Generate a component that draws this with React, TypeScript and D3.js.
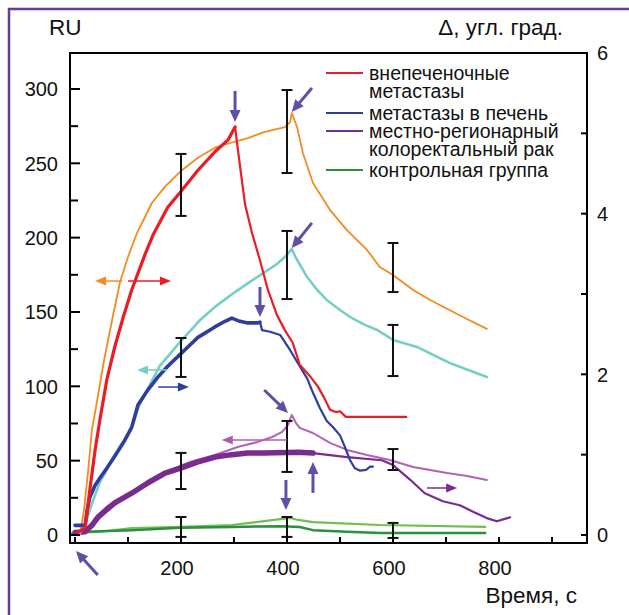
import React from "react";
import * as d3 from "d3";

type Pt = [number, number];

const W = 629;
const H = 615;

// time axis ticks (s)
const timeLabels = [200, 400, 600, 800];
const timeMinor = [0, 100, 200, 300, 400, 500, 600, 700, 800, 900];
// left axis RU
const ruLabels = [0, 50, 100, 150, 200, 250, 300];
const ruMinor = [25, 75, 125, 175, 225, 275];
// right axis, degrees
const degLabels = [0, 2, 4, 6];
const degMinor = [1, 3, 5];

// light curves, left axis (RU)
const orangeRU: Pt[] = [
  [9, 0], [17, 16.8], [25, 43.7], [32, 70.6], [42, 90.8], [55, 117.7], [70, 144.6],
  [85, 170.2], [100, 187], [117, 203.1], [145, 223.3], [170, 234.3], [198, 244.3],
  [232, 253.7], [264, 260.5], [296, 264], [326, 267], [358, 271.1], [396, 274.4],
  [406, 277.8], [409, 283.8], [419, 274.4], [430, 256.9], [449, 236.8], [481, 218.7],
  [513, 205.1], [551, 191.7], [575, 180.3], [600, 174.9], [638, 164.8], [670, 158.1],
  [732, 146.6], [777, 138.6],
];
const cyanRU: Pt[] = [
  [9, 1.3], [19, 6.7], [28, 16.8], [38, 26.9], [47, 35.6], [62, 45.1], [75, 53.8],
  [94, 63.9], [107, 72], [119, 85.4], [141, 100.9], [160, 113.7], [179, 121.7],
  [198, 129.8], [217, 137.2], [236, 144.6], [264, 153.4], [302, 163.4], [330, 170.2],
  [353, 175.6], [381, 182.3], [398, 187.7], [409, 192.4], [417, 186.3], [438, 173.5],
  [457, 164.8], [475, 158.1], [500, 151.3], [519, 146.6], [547, 141.3], [570, 137.9],
  [600, 131.2], [645, 126.5], [707, 115.7], [777, 106.3],
];
const magentaRU: Pt[] = [
  [0, 0], [19, 3.4], [47, 11.4], [75, 20.2], [104, 28.3], [141, 37], [179, 43.7],
  [217, 49.1], [264, 53.8], [307, 59.2], [345, 62.6], [372, 65.9], [391, 69.3],
  [402, 74], [409, 80.7], [417, 75.3], [424, 72], [449, 68.6], [481, 61.9],
  [513, 57.2], [551, 53.8], [594, 50.4], [638, 45.7], [702, 41.7], [740, 39.7], [777, 37],
];
const lightGreenRU: Pt[] = [
  [-9, 1.3], [43, 2], [107, 4.7], [202, 5.4], [296, 6.7], [391, 10.8], [406, 11.4],
  [421, 10.1], [449, 8.7], [575, 6.7], [774, 5.4],
];

// dark curves, right axis (degrees)
const redDeg: Pt[] = [
  [6, 0.03], [19, 0.09], [28, 0.56], [38, 1.06], [47, 1.43], [60, 1.93], [75, 2.34],
  [91, 2.71], [107, 3.05], [132, 3.49], [147, 3.73], [175, 4.08], [198, 4.26],
  [232, 4.54], [264, 4.77], [289, 4.92], [302, 5.08], [311, 4.61], [321, 4.11],
  [334, 3.76], [349, 3.42], [364, 3.05], [381, 2.74], [396, 2.55], [411, 2.39],
  [424, 2.12], [443, 1.98], [458, 1.85], [470, 1.71], [481, 1.56], [492, 1.53],
  [500, 1.54], [511, 1.47], [625, 1.47],
];
const blueDeg: Pt[] = [
  [0, 0.12], [19, 0.12], [23, 0.31], [28, 0.47], [38, 0.62], [47, 0.71], [60, 0.83],
  [75, 0.98], [94, 1.18], [107, 1.34], [119, 1.62], [138, 1.81], [157, 1.97],
  [175, 2.1], [194, 2.22], [213, 2.34], [232, 2.46], [264, 2.59], [283, 2.66],
  [296, 2.7], [311, 2.66], [326, 2.64], [345, 2.64], [349, 2.65], [353, 2.55],
  [368, 2.53], [387, 2.49], [406, 2.3], [424, 2.1], [438, 1.95], [449, 1.77],
  [462, 1.58], [475, 1.42], [487, 1.34], [500, 1.24], [509, 1.1], [519, 0.93],
  [528, 0.83], [538, 0.8], [549, 0.81], [557, 0.85], [562, 0.85],
];
const purpleDeg: Pt[] = [
  [0, 0.03], [19, 0.04], [32, 0.12], [43, 0.22], [60, 0.32], [75, 0.4], [107, 0.52],
  [138, 0.65], [170, 0.77], [198, 0.83], [232, 0.91], [264, 0.97], [296, 1.0],
  [326, 1.02], [358, 1.02], [421, 1.03], [449, 1.02], [513, 0.97], [579, 0.93],
  [600, 0.87], [632, 0.69], [660, 0.52], [694, 0.42], [726, 0.37], [751, 0.29],
  [777, 0.21], [796, 0.17], [811, 0.2], [821, 0.22],
];
const greenDeg: Pt[] = [
  [-9, 0], [19, 0.04], [107, 0.06], [198, 0.09], [296, 0.1], [391, 0.11], [424, 0.1],
  [449, 0.06], [513, 0.04], [575, 0.025], [774, 0.025],
];

// error bars: time, low RU, high RU
const errT = [200, 200, 200, 200, 400, 400, 400, 400, 600, 600, 600, 600];
const errLo = [214.6, 106.3, 30.9, -1.3, 243.5, 158.7, 42.4, -1.3, 163.4, 106.9, 43.7, -2];
const errHi = [256.3, 132.5, 55.2, 12.1, 299.3, 204.5, 76.7, 12.1, 196.4, 141.3, 57.8, 8.1];

// event arrows: [t0, ru0, t1, ru1]
const eventArrows = [
  [302, 298.7, 302, 277.8],
  [447, 300.7, 409, 284.5],
  [447, 209.9, 409, 193],
  [349, 166.8, 349, 146.6],
  [357, 97.5, 402, 82.1],
  [398, 37, 398, 16.8],
  [449, 28.3, 449, 49.1],
  [43, -26.9, 2, -10.8],
];
// axis pointer arrows: [t0, t1, ru, colour]
const axisArrows: [number, number, number, string][] = [
  [89, 38, 170.8, "#f58a1f"],
  [100, 181, 170.8, "#ed1c24"],
  [174, 117, 111, "#76cfc6"],
  [157, 215, 99.5, "#2d3e9e"],
  [400, 277, 63.9, "#b15cb3"],
  [664, 721, 31.6, "#7a2b8f"],
];

const legendNames = [
  ["внепеченочные", "метастазы"],
  ["метастазы в печень"],
  ["местно-регионарный", "колоректальный рак"],
  ["контрольная группа"],
];
const legendColors = ["#ed1c24", "#2d3e9e", "#7a2b8f", "#2a8f3e"];

const App = () => {
  const x = d3.scaleLinear().domain([-9.4, 966]).range([70, 587]);
  const yL = d3.scaleLinear().domain([-5.4, 324.2]).range([543, 53]);
  const yR = d3.scaleLinear().domain([-0.1, 6]).range([543, 53]);

  const lineL = d3.line<Pt>().x((d) => x(d[0])).y((d) => yL(d[1]));
  const lineR = d3.line<Pt>().x((d) => x(d[0])).y((d) => yR(d[1]));

  const font = "'Liberation Sans', Arial, sans-serif";
  const slate = "#5d50a8";

  // series: path, colour, width (thick noisy part drawn separately)
  const curves = [
    { d: lineL(magentaRU), c: "#b460b6", w: 2 },
    { d: lineL(lightGreenRU), c: "#6cc04c", w: 2.2 },
    { d: lineR(greenDeg), c: "#2a8f3e", w: 2.5 },
    { d: lineR(purpleDeg.filter((p) => p[0] >= 449)), c: "#7a2b8f", w: 2.2 },
    { d: lineR(purpleDeg.filter((p) => p[0] <= 449)), c: "#7a2b8f", w: 5.5 },
    { d: lineL(orangeRU), c: "#f58a1f", w: 1.8 },
    { d: lineL(cyanRU), c: "#76cfc6", w: 2.6 },
    { d: lineR(blueDeg.filter((p) => p[0] >= 349)), c: "#2d3e9e", w: 2.2 },
    { d: lineR(blueDeg.filter((p) => p[0] <= 349)), c: "#2d3e9e", w: 3.6 },
    { d: lineR(redDeg.filter((p) => p[0] >= 302)), c: "#ed1c24", w: 2.2 },
    { d: lineR(redDeg.filter((p) => p[0] <= 302)), c: "#ed1c24", w: 3.2 },
  ];

  const arrowHead = (x0: number, y0: number, x1: number, y1: number, len: number, half: number) => {
    const a = Math.atan2(y1 - y0, x1 - x0);
    const bx = x1 - len * Math.cos(a);
    const by = y1 - len * Math.sin(a);
    const px = -Math.sin(a) * half;
    const py = Math.cos(a) * half;
    return `M${x1},${y1}L${bx + px},${by + py}L${bx - px},${by - py}Z`;
  };

  return (
    <svg width={W} height={H} style={{ position: "absolute", left: 0, top: 0, background: "#fff" }} fontFamily={font}>
      <rect x={9} y={9} width={700} height={700} fill="none" stroke="#6a3a98" strokeWidth={2.5} />

      {/* curves */}
      <g fill="none" strokeLinejoin="round" strokeLinecap="round">
        {curves.map((s, i) => (
          <path key={i} d={s.d || ""} stroke={s.c} strokeWidth={s.w} />
        ))}
      </g>

      {/* error bars */}
      <g stroke="#111" strokeWidth={2}>
        {errT.map((t, i) => (
          <g key={i}>
            <line x1={x(t)} x2={x(t)} y1={yL(errLo[i])} y2={yL(errHi[i])} />
            <line x1={x(t) - 5.5} x2={x(t) + 5.5} y1={yL(errLo[i])} y2={yL(errLo[i])} />
            <line x1={x(t) - 5.5} x2={x(t) + 5.5} y1={yL(errHi[i])} y2={yL(errHi[i])} />
          </g>
        ))}
      </g>

      {/* axis arrows */}
      {axisArrows.map(([t0, t1, v, c], i) => {
        const x0 = x(t0), x1 = x(t1), y = yL(v);
        const dir = Math.sign(x1 - x0);
        return (
          <g key={i}>
            <line x1={x0} x2={x1 - dir * 8} y1={y} y2={y} stroke={c} strokeWidth={1.5} />
            <path d={arrowHead(x0, y, x1, y, 11, 4.5)} fill={c} />
          </g>
        );
      })}

      {/* event arrows */}
      {eventArrows.map(([t0, v0, t1, v1], i) => {
        const x0 = x(t0), y0 = yL(v0), x1 = x(t1), y1 = yL(v1);
        const a = Math.atan2(y1 - y0, x1 - x0);
        return (
          <g key={i}>
            <line x1={x0} y1={y0} x2={x1 - 8 * Math.cos(a)} y2={y1 - 8 * Math.sin(a)} stroke={slate} strokeWidth={3} />
            <path d={arrowHead(x0, y0, x1, y1, 12, 5.5)} fill={slate} />
          </g>
        );
      })}

      {/* frame and ticks */}
      <rect x={70} y={53} width={517} height={490} fill="none" stroke="#000" strokeWidth={2} />
      <g stroke="#000" strokeWidth={2}>
        {ruLabels.map((v) => (
          <line key={"l" + v} x1={70} x2={80} y1={yL(v)} y2={yL(v)} />
        ))}
        {ruMinor.map((v) => (
          <line key={"m" + v} x1={70} x2={78} y1={yL(v)} y2={yL(v)} />
        ))}
        {degLabels.concat(degMinor).map((v) => (
          <line key={"r" + v} x1={581} x2={587} y1={yR(v)} y2={yR(v)} />
        ))}
        {timeMinor.map((t) => (
          <line key={"b" + t} x1={x(t)} x2={x(t)} y1={543} y2={537} />
        ))}
      </g>

      <g fontSize={20} fill="#111">
        {ruLabels.map((v) => (
          <text key={v} x={58} y={yL(v)} dy="0.36em" textAnchor="end">{v}</text>
        ))}
        {degLabels.map((v) => (
          <text key={v} x={597} y={yR(v)} dy="0.36em">{v}</text>
        ))}
        {timeLabels.map((t) => (
          <text key={t} x={x(t) - 4} y={575} textAnchor="middle">{t}</text>
        ))}
      </g>
      <g fontSize={22.5} fill="#111">
        <text x={49} y={35}>RU</text>
        <text x={563} y={35} textAnchor="end">Δ, угл. град.</text>
        <text x={577} y={603} textAnchor="end">Время, с</text>
      </g>

      {/* legend */}
      <g fontSize={19.5} fill="#111">
        {legendNames.map((names, i) => {
          const base = [80, 120, 138, 177][i];
          return (
            <g key={i}>
              <line x1={326} x2={363} y1={base - 7} y2={base - 7} stroke={legendColors[i]} strokeWidth={2.2} />
              {names.map((n, j) => (
                <text key={j} x={369} y={base + j * 17.5}>{n}</text>
              ))}
            </g>
          );
        })}
      </g>
    </svg>
  );
};

export default App;
